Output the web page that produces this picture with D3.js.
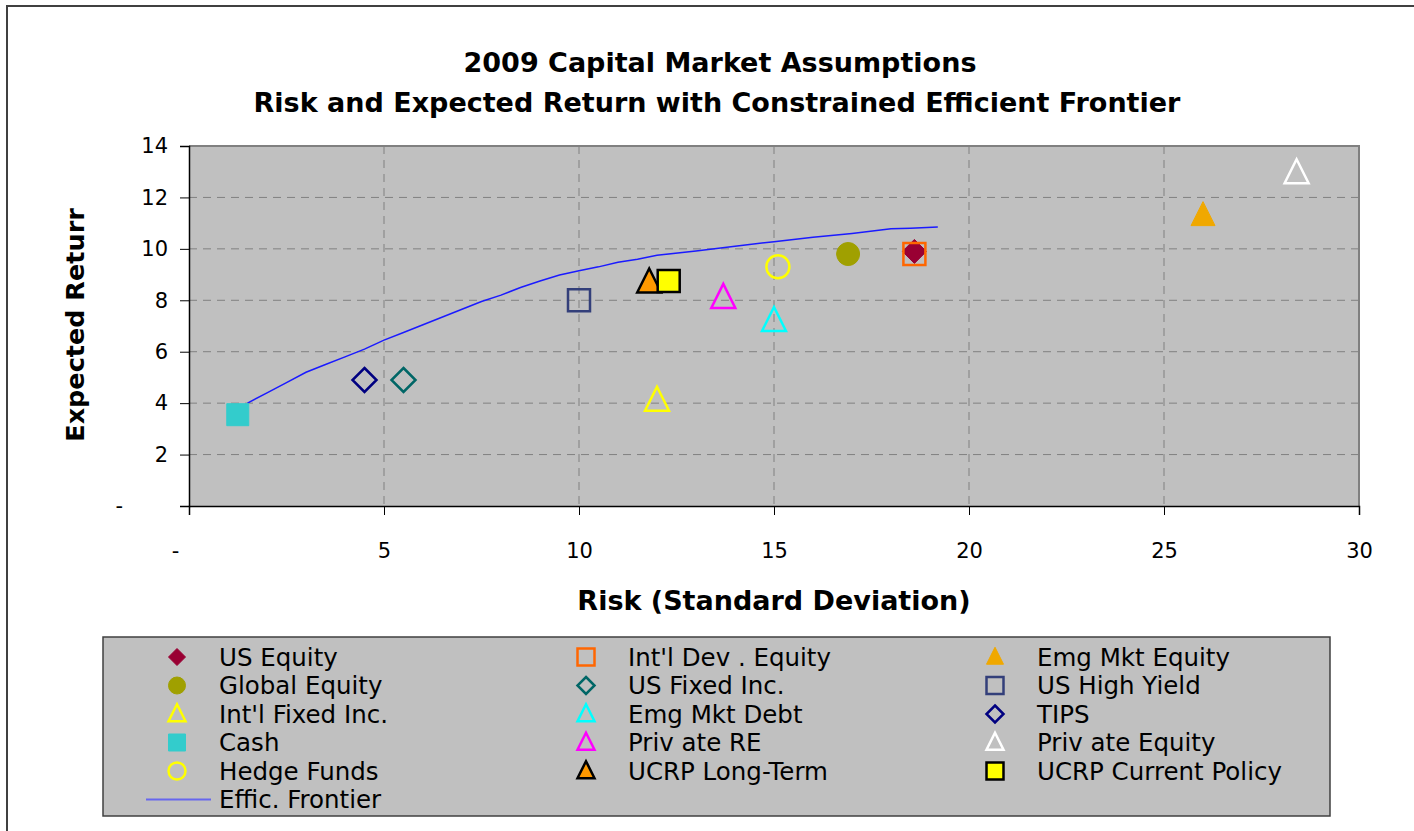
<!DOCTYPE html>
<html>
<head>
<meta charset="utf-8">
<script src="https://cdn.jsdelivr.net/npm/d3@7"></script>
<style>
  body { margin: 0; background: #fff; }
  svg { display: block; font-family: "DejaVu Sans", sans-serif; }
</style>
</head>
<body>
<svg id="chart" width="1414" height="831"></svg>
<script>
// Asset classes: risk (std dev) and expected return
const assetNames = [
  "US Equity", "Int'l Dev . Equity", "Emg Mkt Equity",
  "Global Equity", "US Fixed Inc.", "US High Yield",
  "Int'l Fixed Inc.", "Emg Mkt Debt", "TIPS",
  "Cash", "Priv ate RE", "Priv ate Equity",
  "Hedge Funds", "UCRP Long-Term", "UCRP Current Policy"
];
const assetRisk = [18.6, 18.6, 26.0, 16.9, 5.5, 10.0, 12.0, 15.0, 4.5, 1.25, 13.7, 28.4, 15.1, 11.8, 12.3];
const assetReturn = [9.9, 9.8, 11.3, 9.8, 4.9, 8.0, 4.1, 7.2, 4.9, 3.55, 8.1, 12.95, 9.3, 8.7, 8.75];
const assetShape = ["diamond", "square", "triangle", "circle", "diamond", "square", "triangle", "triangle", "diamond", "square", "triangle", "triangle", "circle", "triangle", "square"];
const assetFill = ["#990033", "none", "#F0A800", "#A0A000", "none", "none", "none", "none", "none", "#33CCCC", "none", "none", "none", "#FF9900", "#FFFF00"];
const assetStroke = ["#990033", "#FF6600", "#F0A800", "#A0A000", "#006666", "#333F7A", "#FFFF00", "#00FFFF", "#000080", "#33CCCC", "#FF00FF", "#FFFFFF", "#FFFF00", "#000000", "#000000"];

// Constrained efficient frontier
const frontierRisk = [1.5, 2.0, 2.5, 3.0, 3.5, 4.0, 4.5, 5.0, 5.5, 6.0, 6.5, 7.0, 7.5, 8.0, 8.5, 9.0, 9.5, 10.0, 10.5, 11.0, 11.5, 12.0, 13.0, 14.0, 15.0, 16.0, 17.0, 18.0, 18.5, 19.2];
const frontierReturn = [4.0, 4.4, 4.8, 5.2, 5.5, 5.8, 6.1, 6.45, 6.75, 7.05, 7.35, 7.65, 7.95, 8.2, 8.5, 8.75, 8.98, 9.15, 9.3, 9.48, 9.6, 9.75, 9.92, 10.1, 10.28, 10.45, 10.6, 10.78, 10.8, 10.85];

const xTicks = [0, 5, 10, 15, 20, 25, 30];
const yTicks = [0, 2, 4, 6, 8, 10, 12, 14];

const svg = d3.select("#chart");

// outer chart border (left + top only visible)
svg.append("path")
  .attr("d", "M7,831 V6 H1414")
  .attr("fill", "none")
  .attr("stroke", "#404040")
  .attr("stroke-width", 2);

// title
svg.append("text")
  .attr("x", 720).attr("y", 72)
  .attr("text-anchor", "middle")
  .style("font-size", "27px").style("font-weight", "bold")
  .text("2009 Capital Market Assumptions");
svg.append("text")
  .attr("x", 717).attr("y", 112)
  .attr("text-anchor", "middle")
  .style("font-size", "27px").style("font-weight", "bold")
  .text("Risk and Expected Return with Constrained Efficient Frontier");

// scales
const x = d3.scaleLinear().domain([0, 30]).range([189, 1359]);
const y = d3.scaleLinear().domain([0, 14]).range([506, 146]);

// plot area
svg.append("rect")
  .attr("x", x(0)).attr("y", y(14))
  .attr("width", x(30) - x(0)).attr("height", y(0) - y(14))
  .attr("fill", "#C0C0C0");

// gridlines
svg.append("g").selectAll("line")
  .data(yTicks.filter(d => d > 0 && d < 14))
  .enter().append("line")
  .attr("x1", x(0)).attr("x2", x(30))
  .attr("y1", d => y(d)).attr("y2", d => y(d))
  .attr("stroke", "#808080").attr("stroke-dasharray", "8,6");
svg.append("g").selectAll("line")
  .data(xTicks.filter(d => d > 0 && d < 30))
  .enter().append("line")
  .attr("x1", d => x(d)).attr("x2", d => x(d))
  .attr("y1", y(14)).attr("y2", y(0))
  .attr("stroke", "#808080").attr("stroke-dasharray", "8,6");

// top/right frame
svg.append("path")
  .attr("d", `M${x(0)},${y(14)} H${x(30)} V${y(0)}`)
  .attr("fill", "none").attr("stroke", "#808080").attr("stroke-width", 2);

// axes
const fmt = d => d === 0 ? "-" : d;
const xAxis = d3.axisBottom(x).tickValues(xTicks).tickFormat(fmt).tickSize(9).tickPadding(28);
const yAxis = d3.axisLeft(y).tickValues(yTicks).tickFormat(fmt).tickSize(9).tickPadding(12);

const gx = svg.append("g").attr("transform", `translate(0,${y(0)})`).call(xAxis);
const gy = svg.append("g").attr("transform", `translate(${x(0)},0)`).call(yAxis);
[gx, gy].forEach(g => {
  g.select(".domain").attr("stroke", "#000").attr("stroke-width", 1.5);
  g.selectAll(".tick line").attr("stroke", "#000");
  g.selectAll("text").style("font-size", "21px").style("font-family", "DejaVu Sans, sans-serif").attr("fill", "#000");
});
gx.selectAll(".tick text").attr("dx", d => d === 0 ? -14 : 0);
gy.selectAll(".tick text").attr("dx", d => d === 0 ? -45 : 0);

// axis titles
svg.append("text")
  .attr("x", x(15)).attr("y", 610)
  .attr("text-anchor", "middle")
  .style("font-size", "27px").style("font-weight", "bold")
  .text("Risk (Standard Deviation)");
svg.append("text")
  .attr("transform", "translate(84,325) rotate(-90)")
  .attr("text-anchor", "middle")
  .style("font-size", "25.5px").style("font-weight", "bold")
  .text("Expected Returr");

// frontier line
const frontier = frontierRisk.map((r, i) => [r, frontierReturn[i]]);
svg.append("path")
  .datum(frontier)
  .attr("fill", "none")
  .attr("stroke", "#1A1AFF")
  .attr("stroke-width", 1.5)
  .attr("d", d3.line().x(d => x(d[0])).y(d => y(d[1])));

// marker shapes
function markerPath(shape, s) {
  if (shape === "diamond") return `M0,${-s} L${s},0 L0,${s} L${-s},0 Z`;
  if (shape === "square") return `M${-s},${-s} H${s} V${s} H${-s} Z`;
  if (shape === "triangle") return `M0,${-s * 1.15} L${s},${s * 0.85} L${-s},${s * 0.85} Z`;
  return null;
}
function drawMarker(g, shape, fill, stroke, s) {
  const sw = fill === "none" || stroke === "#000000" ? 2.5 : 1;
  if (shape === "circle") {
    g.append("circle").attr("r", s)
      .attr("fill", fill).attr("stroke", stroke).attr("stroke-width", sw);
  } else {
    g.append("path").attr("d", markerPath(shape, s))
      .attr("fill", fill).attr("stroke", stroke).attr("stroke-width", sw)
      .attr("stroke-linejoin", "miter");
  }
}
const markerSize = { diamond: 12, square: 11, triangle: 12, circle: 11.5 };

// points
assetNames.forEach((name, i) => {
  const g = svg.append("g")
    .attr("transform", `translate(${x(assetRisk[i])},${y(assetReturn[i])})`);
  drawMarker(g, assetShape[i], assetFill[i], assetStroke[i], markerSize[assetShape[i]]);
});

// legend
const legend = svg.append("g");
legend.append("rect")
  .attr("x", 103).attr("y", 637)
  .attr("width", 1227).attr("height", 179)
  .attr("fill", "#C0C0C0")
  .attr("stroke", "#404040").attr("stroke-width", 1.5);

const colX = [177, 586, 995];
const rowY = d3.scaleLinear().domain([0, 1]).range([657, 685.5]);
assetNames.forEach((name, i) => {
  const col = i % 3, row = Math.floor(i / 3);
  const g = legend.append("g")
    .attr("transform", `translate(${colX[col]},${rowY(row)})`);
  drawMarker(g, assetShape[i], assetFill[i], assetStroke[i], 8.5);
  legend.append("text")
    .attr("x", colX[col] + 42).attr("y", rowY(row))
    .attr("dy", "0.35em")
    .style("font-size", "24.5px")
    .text(name);
});
legend.append("line")
  .attr("x1", 146).attr("x2", 211)
  .attr("y1", rowY(5)).attr("y2", rowY(5))
  .attr("stroke", "#6666EE").attr("stroke-width", 2);
legend.append("text")
  .attr("x", 219).attr("y", rowY(5))
  .attr("dy", "0.35em")
  .style("font-size", "24.5px")
  .text("Effic. Frontier");
</script>
</body>
</html>
